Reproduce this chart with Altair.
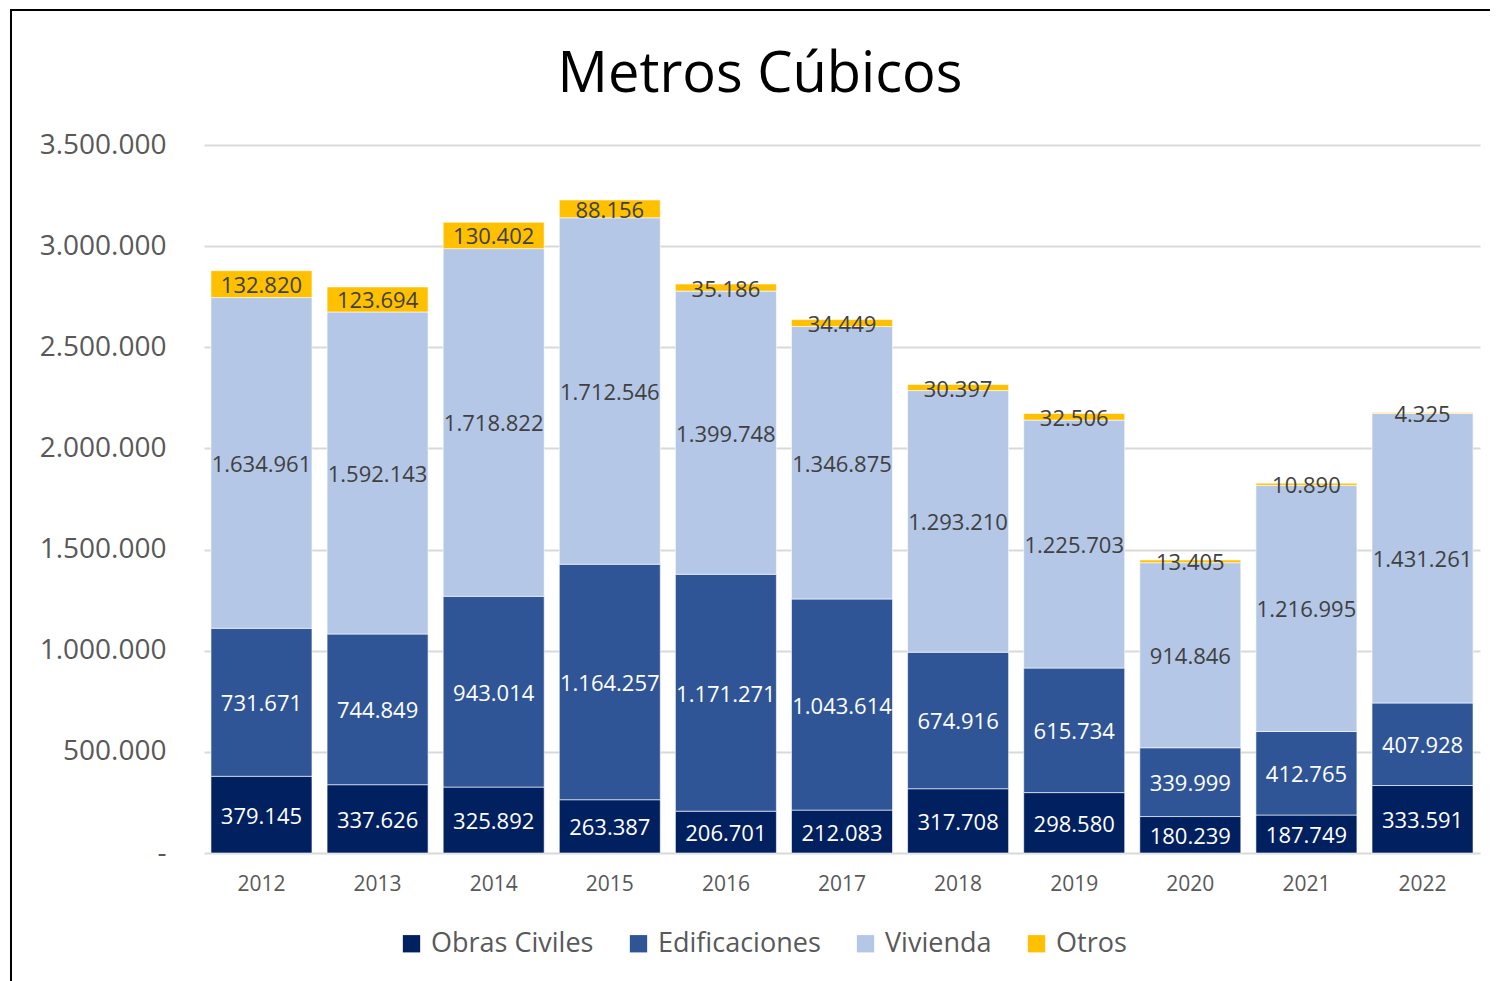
import altair as alt
import pandas as pd

years = ["2012", "2013", "2014", "2015", "2016", "2017", "2018", "2019", "2020", "2021", "2022"]
series = ["Obras Civiles", "Edificaciones", "Vivienda", "Otros"]
obras = [379145, 337626, 325892, 263387, 206701, 212083, 317708, 298580, 180239, 187749, 333591]
edif = [731671, 744849, 943014, 1164257, 1171271, 1043614, 674916, 615734, 339999, 412765, 407928]
viv = [1634961, 1592143, 1718822, 1712546, 1399748, 1346875, 1293210, 1225703, 914846, 1216995, 1431261]
otros = [132820, 123694, 130402, 88156, 35186, 34449, 30397, 32506, 13405, 10890, 4325]
colors = ["#002060", "#2F5597", "#B4C7E7", "#FFC000"]
y_ticks = [0, 500000, 1000000, 1500000, 2000000, 2500000, 3000000, 3500000]

rows = []
for i, y in enumerate(years):
    for k, vals in enumerate([obras, edif, viv, otros]):
        rows.append({"year": y, "series": series[k], "value": vals[i], "ord": k})
df = pd.DataFrame(rows)

FONT = "Open Sans"
W, H = 1276, 708

base = alt.Chart(df).transform_stack(
    stack="value", groupby=["year"], sort=[alt.SortField("ord", order="ascending")], as_=["y0", "y1"]
).transform_calculate(
    mid="(datum.y0 + datum.y1) / 2",
    lbl="replace(replace(format(datum.value, ','), ',', '.'), ',', '.')",
    tcol="datum.ord < 2 ? '#FFFFFF' : '#404040'",
)

xenc = alt.X(
    "year:N",
    sort=years,
    title=None,
    scale=alt.Scale(paddingInner=0.13, paddingOuter=0.06),
    axis=alt.Axis(labelAngle=0, labelFontSize=21, labelColor="#595959", labelFont=FONT,
                  labelPadding=20, ticks=False, domain=False),
)

bars = base.mark_bar(stroke="#FFFFFF", strokeWidth=0.6).encode(
    x=xenc,
    y=alt.Y(
        "y0:Q",
        title=None,
        scale=alt.Scale(domain=[0, 3500000], nice=False),
        axis=alt.Axis(
            values=y_ticks,
            labelExpr="datum.value == 0 ? '-' : replace(replace(format(datum.value, ','), ',', '.'), ',', '.')",
            labelFontSize=28, labelColor="#595959", labelFont=FONT, labelPadding=38,
            ticks=False, domain=False, gridColor="#D9D9D9", gridWidth=2,
        ),
    ),
    y2="y1:Q",
    color=alt.Color(
        "series:N",
        scale=alt.Scale(domain=series, range=colors),
        legend=alt.Legend(
            title=None, orient="none", direction="horizontal", legendX=194, legendY=785,
            symbolType="square", symbolSize=300, symbolStrokeWidth=0,
            labelFontSize=27, labelColor="#595959", labelFont=FONT, labelLimit=400,
            labelOffset=6, columnPadding=31,
        ),
    ),
    order=alt.Order("ord:Q"),
)

texts = base.mark_text(font=FONT, fontSize=22, baseline="middle", align="center", dy=2).encode(
    x=alt.X("year:N", sort=years),
    y=alt.Y("mid:Q"),
    text="lbl:N",
    color=alt.Color("tcol:N", scale=None),
)

frame = alt.Chart(pd.DataFrame({"a": [0]})).mark_rect(
    filled=False, stroke="#000000", strokeWidth=2
).encode(
    x=alt.value(-193), x2=alt.value(1320), y=alt.value(-135), y2=alt.value(900)
)

chart = alt.layer(bars, texts, frame).properties(
    width=W,
    height=H,
    autosize=alt.AutoSizeParams(type="none"),
    padding={"left": 196, "top": 137, "right": 10, "bottom": 128},
    title=alt.TitleParams(
        "Metros Cúbicos", font=FONT, fontSize=56, fontWeight="normal", color="#000000",
        anchor="middle", dx=-82, offset=-95,
    ),
).configure_view(stroke=None)

chart.save("out.html", embed_options={"renderer": "svg", "actions": False})
